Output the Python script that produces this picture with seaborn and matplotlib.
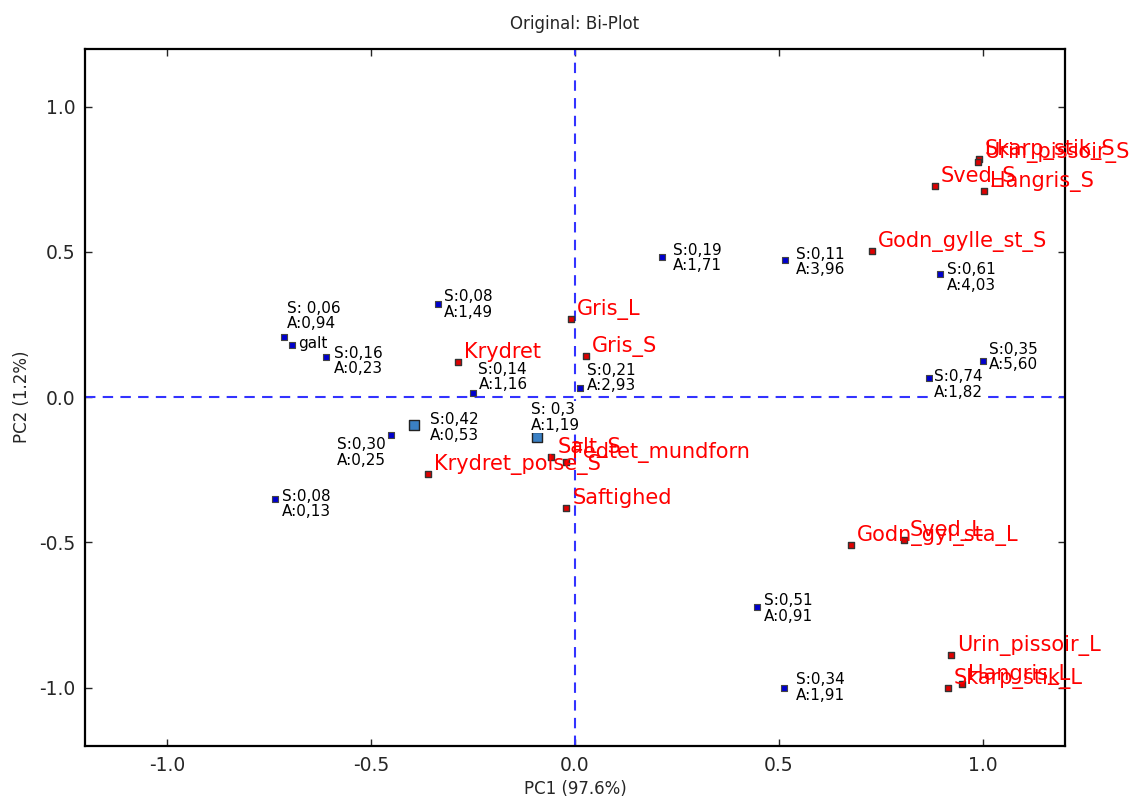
import matplotlib
matplotlib.use("Agg")
import matplotlib.pyplot as plt
import pandas as pd
import seaborn as sns

sns.set_style("ticks")
plt.rcParams['font.family'] = ['DejaVu Sans']

# sample scores (blue squares)
sample_pc1 = [-0.713, -0.693, -0.610, -0.336, -0.249, 0.212, 0.514, 0.894, 1.000,
              0.867, 0.011, -0.394, -0.451, -0.735, -0.094, 0.445, 0.512]
sample_pc2 = [0.207, 0.179, 0.138, 0.320, 0.014, 0.482, 0.472, 0.423, 0.124,
              0.065, 0.031, -0.097, -0.131, -0.351, -0.138, -0.723, -1.002]
sample_labels = ["S: 0,06\nA:0,94", "galt", "S:0,16\nA:0,23", "S:0,08\nA:1,49",
                 "S:0,14\nA:1,16", "S:0,19\nA:1,71", "S:0,11\nA:3,96", "S:0,61\nA:4,03",
                 "S:0,35\nA:5,60", "S:0,74\nA:1,82", "S:0,21\nA:2,93", "S:0,42\nA:0,53",
                 "S:0,30\nA:0,25", "S:0,08\nA:0,13", "S: 0,3\nA:1,19", "S:0,51\nA:0,91",
                 "S:0,34\nA:1,91"]
sample_group = ["s", "s", "s", "s", "s", "s", "s", "s", "s",
                "s", "s", "b", "s", "s", "b", "s", "s"]

# variable loadings (red squares)
var_pc1 = [0.990, 0.988, 0.882, 1.002, 0.728, -0.011, 0.026, -0.286, -0.360,
           -0.058, -0.021, -0.021, 0.676, 0.806, 0.921, 0.913, 0.948]
var_pc2 = [0.820, 0.809, 0.726, 0.709, 0.503, 0.268, 0.141, 0.120, -0.265,
           -0.207, -0.224, -0.382, -0.509, -0.492, -0.888, -1.002, -0.988]
var_labels = ["Skarp_stik_S", "Urin_pissoir_S", "Sved_S", "Hangris_S", "Godn_gylle_st_S",
              "Gris_L", "Gris_S", "Krydret", "Krydret_polse_S", "Salt_S", "Fedtet_mundforn",
              "Saftighed", "Godn_gyl_sta_L", "Sved_L", "Urin_pissoir_L", "Skarp_stik_L",
              "Hangris_L"]

# label placement (pixel offsets from the point)
sample_offsets = [(3, 21), (6, 2), (8, -4), (6, 0), (5, 16), (11, -1), (11, -2), (7, -3),
                  (6, 4), (5, -6), (7, 10), (16, -2), (-54, -17), (7, -5), (-6, 20),
                  (7, -1), (12, 1)]

samples = pd.DataFrame({"PC1": sample_pc1, "PC2": sample_pc2,
                        "label": sample_labels, "group": sample_group})
variables = pd.DataFrame({"PC1": var_pc1, "PC2": var_pc2, "label": var_labels})

fig = plt.figure(figsize=(11.32, 7.96), dpi=100)
ax = fig.add_axes([0.0755, 0.063, 0.865, 0.876])

ax.axhline(0, color='#3333ff', lw=1.5, ls=(0, (5, 3.5)), zorder=1)
ax.axvline(0, color='#3333ff', lw=1.5, ls=(0, (5, 3.5)), zorder=1)

small = samples[samples.group == "s"]
big = samples[samples.group == "b"]
sns.scatterplot(data=small, x="PC1", y="PC2", marker='s', s=22, color='#0000cc',
                edgecolor='#444444', linewidth=0.8, ax=ax, zorder=3)
sns.scatterplot(data=big, x="PC1", y="PC2", marker='s', s=45, color='#3a80c4',
                edgecolor='#222222', linewidth=1.0, ax=ax, zorder=3)
sns.scatterplot(data=variables, x="PC1", y="PC2", marker='s', s=24, color='#e00000',
                edgecolor='#333333', linewidth=1.0, ax=ax, zorder=3)

for (x, y, lab), off in zip(samples[["PC1", "PC2", "label"]].values, sample_offsets):
    ax.annotate(lab, (x, y), xytext=off, textcoords='offset pixels',
                ha='left', va='center', fontsize=11, color='black', linespacing=1.05,
                bbox=dict(facecolor='white', edgecolor='none', pad=0.5), zorder=4)

for x, y, lab in variables[["PC1", "PC2", "label"]].values:
    ax.annotate(lab, (x, y), xytext=(6, 4), textcoords='offset pixels',
                ha='left', va='baseline', fontsize=15, color='#ff0000', zorder=5)

ax.set_xlim(-1.2, 1.2)
ax.set_ylim(-1.2, 1.2)
ticks = [-1.0, -0.5, 0.0, 0.5, 1.0]
ax.set_xticks(ticks)
ax.set_yticks(ticks)
ax.set_xticklabels([f"{t:.1f}" for t in ticks])
ax.set_yticklabels([f"{t:.1f}" for t in ticks])
ax.tick_params(direction='in', top=True, right=True, length=5, width=1,
               labelsize=13.5, pad=7)
for sp in ax.spines.values():
    sp.set_linewidth(1.6)
    sp.set_color('black')
    sp.set_visible(True)

narrow = ['Liberation Sans Narrow', 'DejaVu Sans']
ax.set_xlabel("PC1 (97.6%)", fontsize=12, family=narrow, labelpad=4)
ax.set_ylabel("PC2 (1.2%)", fontsize=12, family=narrow, labelpad=6)
ax.set_title("Original: Bi-Plot", fontsize=12, family=narrow, pad=14)

fig.savefig("out.png", dpi=100)
